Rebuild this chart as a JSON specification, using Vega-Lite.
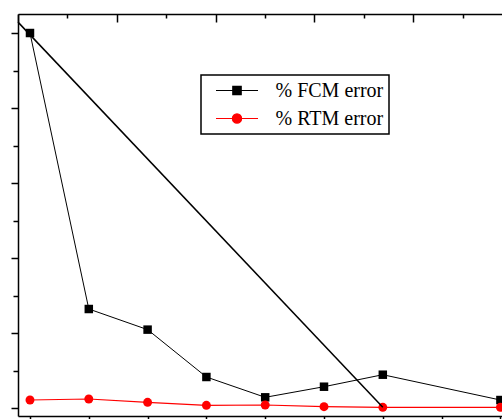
{
  "$schema": "https://vega.github.io/schema/vega-lite/v6.json",
  "width": 484,
  "height": 402,
  "autosize": {"type": "none"},
  "padding": {"left": 18, "top": 14, "right": 0, "bottom": 3},
  "background": "white",
  "config": {
    "view": {"stroke": null},
    "axis": {"domainColor": "black", "domainWidth": 1.5, "tickColor": "black", "tickWidth": 1.5, "labels": false, "grid": false, "title": null}
  },
  "datasets": {
    "series": [
      {"n": 1, "v": 100, "series": "% FCM error"},
      {"n": 2, "v": 26.4, "series": "% FCM error"},
      {"n": 3, "v": 20.9, "series": "% FCM error"},
      {"n": 4, "v": 8.27, "series": "% FCM error"},
      {"n": 5, "v": 2.85, "series": "% FCM error"},
      {"n": 6, "v": 5.68, "series": "% FCM error"},
      {"n": 7, "v": 8.88, "series": "% FCM error"},
      {"n": 9, "v": 2.13, "series": "% FCM error"},
      {"n": 1, "v": 2.13, "series": "% RTM error"},
      {"n": 2, "v": 2.4, "series": "% RTM error"},
      {"n": 3, "v": 1.52, "series": "% RTM error"},
      {"n": 4, "v": 0.72, "series": "% RTM error"},
      {"n": 5, "v": 0.8, "series": "% RTM error"},
      {"n": 6, "v": 0.35, "series": "% RTM error"},
      {"n": 7, "v": 0.19, "series": "% RTM error"},
      {"n": 9, "v": 0.19, "series": "% RTM error"}
    ],
    "diag": [
      {"t": 0, "v": 102.9},
      {"t": 7.385, "v": 0.19}
    ]
  },
  "layer": [
    {
      "data": {"name": "series"},
      "layer": [
        {
          "mark": {"type": "line"},
          "encoding": {
            "x": {"field": "n", "type": "quantitative", "scale": {"domain": [0.796, 9.027], "nice": false, "zero": false},
                  "axis": {"orient": "bottom", "values": [1, 2, 3, 4, 5, 6, 7, 8, 9], "tickSize": 6}},
            "y": {"field": "v", "type": "quantitative", "scale": {"domain": [-2.13, 105.07], "nice": false, "zero": false},
                  "axis": {"orient": "left", "values": [0, 10, 20, 30, 40, 50, 60, 70, 80, 90, 100],
                           "tickSize": {"condition": {"test": "datum.value % 20 === 0", "value": 7}, "value": 5}}},
            "color": {"field": "series", "type": "nominal",
                      "scale": {"domain": ["% FCM error", "% RTM error"], "range": ["black", "#ff0000"]},
                      "legend": {
                        "title": null, "orient": "none", "legendX": 183, "legendY": 61,
                        "padding": 5.5, "strokeColor": "black", "fillColor": "white",
                        "symbolSize": 1764, "clipHeight": 20, "rowPadding": 8,
                        "symbolOffset": 8.5, "labelOffset": 16.5,
                        "labelFont": "Liberation Serif", "labelFontSize": 20, "labelColor": "black",
                        "labelLimit": 0,
                        "encode": {
                          "legend": {"update": {"strokeWidth": {"value": 1.5}, "width": {"value": 194}}},
                          "symbols": {"update": {
                            "shape": {"signal": "datum.value === '% FCM error' ? 'M-1,0H1M-0.2,-0.2H0.2V0.2H-0.2Z' : 'M-1,0H1M0.22,0A0.22,0.22 0 1,1 -0.22,0A0.22,0.22 0 1,1 0.22,0'"},
                            "fill": {"signal": "datum.value === '% FCM error' ? 'black' : '#ff0000'"},
                            "stroke": {"signal": "datum.value === '% FCM error' ? 'black' : '#ff0000'"},
                            "strokeWidth": {"value": 1.2},
                            "opacity": {"value": 1},
                            "fillOpacity": {"value": 1},
                            "strokeOpacity": {"value": 1}
                          }}
                        }
                      }},
            "strokeWidth": {"condition": {"test": "datum.series === '% RTM error'", "value": 1.2}, "value": 1}
          }
        },
        {
          "transform": [{"filter": "datum.series === '% FCM error'"}],
          "mark": {"type": "point", "filled": true, "opacity": 1, "shape": "square", "size": 72},
          "encoding": {
            "x": {"field": "n", "type": "quantitative"},
            "y": {"field": "v", "type": "quantitative"},
            "color": {"field": "series", "type": "nominal"}
          }
        },
        {
          "transform": [{"filter": "datum.series === '% RTM error'"}],
          "mark": {"type": "point", "filled": true, "opacity": 1, "shape": "circle", "size": 80},
          "encoding": {
            "x": {"field": "n", "type": "quantitative"},
            "y": {"field": "v", "type": "quantitative"},
            "color": {"field": "series", "type": "nominal"}
          }
        }
      ]
    },
    {
      "data": {"name": "diag"},
      "mark": {"type": "line", "color": "black", "strokeWidth": 1.5},
      "encoding": {
        "x": {"field": "t", "type": "quantitative", "scale": {"domain": [0, 9.798], "nice": false, "zero": false},
              "axis": {"orient": "top", "values": [0, 1, 2, 3, 4, 5, 6, 7, 8, 9],
                       "tickSize": {"condition": {"test": "datum.value % 2 === 0", "value": -8}, "value": -4}}},
        "y": {"field": "v", "type": "quantitative"}
      }
    }
  ],
  "resolve": {"scale": {"x": "independent"}, "axis": {"x": "independent"}}
}
